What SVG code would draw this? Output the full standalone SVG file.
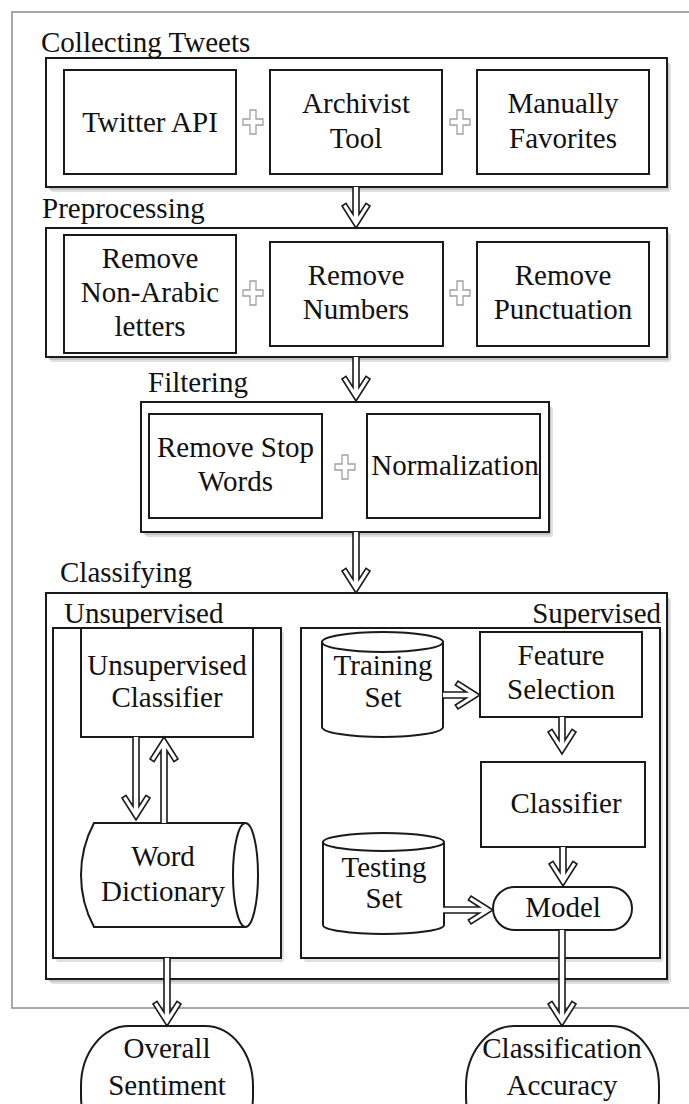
<svg xmlns="http://www.w3.org/2000/svg" width="689" height="1104" viewBox="0 0 689 1104">
  <style>
    .frame { fill: none; stroke: #8c8c8c; stroke-width: 1.5; }
    .shade { fill: #000; opacity: 0.12; }
    .group { fill: #fff; stroke: #1a1a1a; stroke-width: 2; }
    .node { fill: #fff; stroke: #1a1a1a; stroke-width: 2; }
    .line { fill: none; stroke: #1a1a1a; stroke-width: 2; }
    .arrow { fill: #fff; stroke: #1a1a1a; stroke-width: 1.6; stroke-linejoin: miter; }
    .plus { fill: #fff; stroke: #a0a0a0; stroke-width: 1.3; }
  </style>

  <!-- outer frame -->
  <rect class="frame" x="12" y="12" width="690" height="996"/>

  <!-- stage containers, each with a soft offset shade -->
  <g id="collecting">
    <rect class="shade" x="50" y="63" width="621" height="129" rx="3"/>
    <rect class="shade" x="48" y="61" width="621" height="129" rx="2"/>
    <rect class="group" x="46" y="58" width="621" height="129"/>
    <text x="41" y="52" font-family="Liberation Serif" font-size="29" fill="#111">Collecting Tweets</text>
  </g>
  <g id="preprocessing">
    <rect class="shade" x="50" y="233" width="621" height="129" rx="3"/>
    <rect class="shade" x="48" y="231" width="621" height="129" rx="2"/>
    <rect class="group" x="46" y="228" width="621" height="129"/>
    <text x="42" y="218" font-family="Liberation Serif" font-size="29" fill="#111">Preprocessing</text>
  </g>
  <g id="filtering">
    <rect class="shade" x="145" y="407" width="408" height="130" rx="3"/>
    <rect class="shade" x="143" y="405" width="408" height="130" rx="2"/>
    <rect class="group" x="141" y="402" width="408" height="130"/>
    <text x="148" y="392" font-family="Liberation Serif" font-size="29" fill="#111">Filtering</text>
  </g>
  <g id="classifying">
    <rect class="shade" x="50" y="598" width="621" height="386" rx="3"/>
    <rect class="shade" x="48" y="596" width="621" height="386" rx="2"/>
    <rect class="group" x="46" y="593" width="621" height="386"/>
    <text x="60" y="582" font-family="Liberation Serif" font-size="29" fill="#111">Classifying</text>
  </g>
  <g id="unsupervised">
    <rect class="shade" x="56" y="632" width="228" height="330" rx="2"/>
    <rect class="group" x="53" y="628" width="228" height="330"/>
    <text x="64" y="623" font-family="Liberation Serif" font-size="29" fill="#111">Unsupervised</text>
  </g>
  <g id="supervised">
    <rect class="shade" x="304" y="632" width="359" height="330" rx="2"/>
    <rect class="group" x="301" y="628" width="359" height="330"/>
    <text x="661" y="623" font-family="Liberation Serif" font-size="29" fill="#111" text-anchor="end">Supervised</text>
  </g>

  <!-- collecting sources -->
  <g id="twitter-api">
    <rect class="node" x="64" y="70" width="172" height="104"/>
    <text x="150" y="132" font-family="Liberation Serif" font-size="29" fill="#111" text-anchor="middle">Twitter API</text>
  </g>
  <g id="archivist-tool">
    <rect class="node" x="270" y="70" width="172" height="104"/>
    <text x="356" y="113" font-family="Liberation Serif" font-size="29" fill="#111" text-anchor="middle">Archivist</text>
    <text x="356" y="148" font-family="Liberation Serif" font-size="29" fill="#111" text-anchor="middle">Tool</text>
  </g>
  <g id="manually-favorites">
    <rect class="node" x="477" y="70" width="172" height="104"/>
    <text x="563" y="113" font-family="Liberation Serif" font-size="29" fill="#111" text-anchor="middle">Manually</text>
    <text x="563" y="148" font-family="Liberation Serif" font-size="29" fill="#111" text-anchor="middle">Favorites</text>
  </g>

  <!-- preprocessing steps -->
  <g id="remove-non-arabic">
    <rect class="node" x="64" y="235" width="172" height="118"/>
    <text x="150" y="268" font-family="Liberation Serif" font-size="29" fill="#111" text-anchor="middle">Remove</text>
    <text x="150" y="302" font-family="Liberation Serif" font-size="29" fill="#111" text-anchor="middle">Non-Arabic</text>
    <text x="150" y="336" font-family="Liberation Serif" font-size="29" fill="#111" text-anchor="middle">letters</text>
  </g>
  <g id="remove-numbers">
    <rect class="node" x="270" y="242" width="173" height="104"/>
    <text x="356" y="285" font-family="Liberation Serif" font-size="29" fill="#111" text-anchor="middle">Remove</text>
    <text x="356" y="319" font-family="Liberation Serif" font-size="29" fill="#111" text-anchor="middle">Numbers</text>
  </g>
  <g id="remove-punctuation">
    <rect class="node" x="477" y="242" width="172" height="104"/>
    <text x="563" y="285" font-family="Liberation Serif" font-size="29" fill="#111" text-anchor="middle">Remove</text>
    <text x="563" y="319" font-family="Liberation Serif" font-size="29" fill="#111" text-anchor="middle">Punctuation</text>
  </g>

  <!-- filtering steps -->
  <g id="remove-stop-words">
    <rect class="node" x="149" y="414" width="173" height="104"/>
    <text x="235.5" y="457" font-family="Liberation Serif" font-size="29" fill="#111" text-anchor="middle">Remove Stop</text>
    <text x="235.5" y="491" font-family="Liberation Serif" font-size="29" fill="#111" text-anchor="middle">Words</text>
  </g>
  <g id="normalization">
    <rect class="node" x="367" y="414" width="173" height="104"/>
    <text x="455" y="475" font-family="Liberation Serif" font-size="29" fill="#111" text-anchor="middle">Normalization</text>
  </g>

  <!-- unsupervised branch -->
  <g id="unsupervised-classifier">
    <rect class="node" x="81" y="628" width="172" height="109"/>
    <text x="167" y="675" font-family="Liberation Serif" font-size="29" fill="#111" text-anchor="middle">Unsupervised</text>
    <text x="167" y="707" font-family="Liberation Serif" font-size="29" fill="#111" text-anchor="middle">Classifier</text>
  </g>
  <g id="word-dictionary">
    <path class="node" d="M94,823 H245.5 A12.5,52 0 0 1 245.5,927 H94 A110.5,110.5 0 0 1 94,823 Z"/>
    <path class="line" d="M245.5,823 A12.5,52 0 0 0 245.5,927"/>
    <text x="163" y="866" font-family="Liberation Serif" font-size="29" fill="#111" text-anchor="middle">Word</text>
    <text x="163" y="901" font-family="Liberation Serif" font-size="29" fill="#111" text-anchor="middle">Dictionary</text>
  </g>

  <!-- supervised branch -->
  <g id="training-set">
    <path class="node" d="M322,642 A60.5,10 0 0 1 443,642 V727 A60.5,10 0 0 1 322,727 Z"/>
    <path class="line" d="M322,642 A60.5,10 0 0 0 443,642"/>
    <text x="383" y="675" font-family="Liberation Serif" font-size="29" fill="#111" text-anchor="middle">Training</text>
    <text x="383" y="707" font-family="Liberation Serif" font-size="29" fill="#111" text-anchor="middle">Set</text>
  </g>
  <g id="feature-selection">
    <rect class="node" x="480" y="632" width="162" height="85"/>
    <text x="561" y="665" font-family="Liberation Serif" font-size="29" fill="#111" text-anchor="middle">Feature</text>
    <text x="561" y="699" font-family="Liberation Serif" font-size="29" fill="#111" text-anchor="middle">Selection</text>
  </g>
  <g id="classifier">
    <rect class="node" x="481" y="762" width="164" height="85"/>
    <text x="566" y="813" font-family="Liberation Serif" font-size="29" fill="#111" text-anchor="middle">Classifier</text>
  </g>
  <g id="testing-set">
    <path class="node" d="M323,842 A60.5,9 0 0 1 444,842 V925 A60.5,9 0 0 1 323,925 Z"/>
    <path class="line" d="M323,842 A60.5,9 0 0 0 444,842"/>
    <text x="384" y="877" font-family="Liberation Serif" font-size="29" fill="#111" text-anchor="middle">Testing</text>
    <text x="384" y="908" font-family="Liberation Serif" font-size="29" fill="#111" text-anchor="middle">Set</text>
  </g>
  <g id="model">
    <rect class="node" x="493" y="887" width="139" height="43" rx="21.5"/>
    <text x="563" y="917" font-family="Liberation Serif" font-size="29" fill="#111" text-anchor="middle">Model</text>
  </g>

  <!-- outputs -->
  <g id="overall-sentiment">
    <rect class="node" x="81" y="1026" width="172" height="130" rx="48" ry="60"/>
    <text x="167" y="1058" font-family="Liberation Serif" font-size="29" fill="#111" text-anchor="middle">Overall</text>
    <text x="167" y="1095" font-family="Liberation Serif" font-size="29" fill="#111" text-anchor="middle">Sentiment</text>
  </g>
  <g id="classification-accuracy">
    <rect class="node" x="466" y="1026" width="193" height="130" rx="48" ry="60"/>
    <text x="562" y="1058" font-family="Liberation Serif" font-size="29" fill="#111" text-anchor="middle">Classification</text>
    <text x="562" y="1095" font-family="Liberation Serif" font-size="29" fill="#111" text-anchor="middle">Accuracy</text>
  </g>

  <!-- combination marks -->
  <g id="plus-marks">
    <path class="plus" transform="translate(253,122)" d="M-3,-12 H3 V-3 H10 V3 H3 V12 H-3 V3 H-10 V-3 H-3 Z"/>
    <path class="plus" transform="translate(460,122)" d="M-3,-12 H3 V-3 H10 V3 H3 V12 H-3 V3 H-10 V-3 H-3 Z"/>
    <path class="plus" transform="translate(253,293)" d="M-3,-12 H3 V-3 H10 V3 H3 V12 H-3 V3 H-10 V-3 H-3 Z"/>
    <path class="plus" transform="translate(460,293)" d="M-3,-12 H3 V-3 H10 V3 H3 V12 H-3 V3 H-10 V-3 H-3 Z"/>
    <path class="plus" transform="translate(345,467)" d="M-3,-12 H3 V-3 H10 V3 H3 V12 H-3 V3 H-10 V-3 H-3 Z"/>
  </g>

  <!-- hollow double-line connectors -->
  <g id="connectors">
    <!-- collecting -> preprocessing -->
    <path class="arrow" d="M353,187 V214.3 L346,203.3 L342,206 L356,228 L370,206 L366,203.3 L359,214.3 V187"/>
    <!-- preprocessing -> filtering -->
    <path class="arrow" d="M353,357 V387.3 L346,376.3 L342,379 L356,401 L370,379 L366,376.3 L359,387.3 V357"/>
    <!-- filtering -> classifying -->
    <path class="arrow" d="M353,532 V579.3 L346,568.3 L342,571 L356,593 L370,571 L366,568.3 L359,579.3 V532"/>
    <!-- unsupervised classifier -> word dictionary -->
    <path class="arrow" d="M133,737 V806.3 L126,795.3 L122,798 L136,820 L150,798 L146,795.3 L139,806.3 V737"/>
    <!-- word dictionary -> unsupervised classifier -->
    <path class="arrow" d="M161,823 V750.7 L154,761.7 L150,759 L164,737 L178,759 L174,761.7 L167,750.7 V823"/>
    <!-- training set -> feature selection -->
    <path class="arrow" d="M443,692 H466.3 L455.3,685 L458,681 L480,695 L458,709 L455.3,705 L466.3,698 H443"/>
    <!-- feature selection -> classifier -->
    <path class="arrow" d="M559,717 V740.3 L552,729.3 L548,732 L562,754 L576,732 L572,729.3 L565,740.3 V717"/>
    <!-- classifier -> model -->
    <path class="arrow" d="M560,847 V872.3 L553,861.3 L549,864 L563,886 L577,864 L573,861.3 L566,872.3 V847"/>
    <!-- testing set -> model -->
    <path class="arrow" d="M443,907 H479.3 L468.3,900 L471,896 L493,910 L471,924 L468.3,920 L479.3,913 H443"/>
    <!-- unsupervised -> overall sentiment -->
    <path class="arrow" d="M164,958 V1012.3 L157,1001.3 L153,1004 L167,1026 L181,1004 L177,1001.3 L170,1012.3 V958"/>
    <!-- model -> classification accuracy -->
    <path class="arrow" d="M559,930 V1012.3 L552,1001.3 L548,1004 L562,1026 L576,1004 L572,1001.3 L565,1012.3 V930"/>
  </g>
</svg>
